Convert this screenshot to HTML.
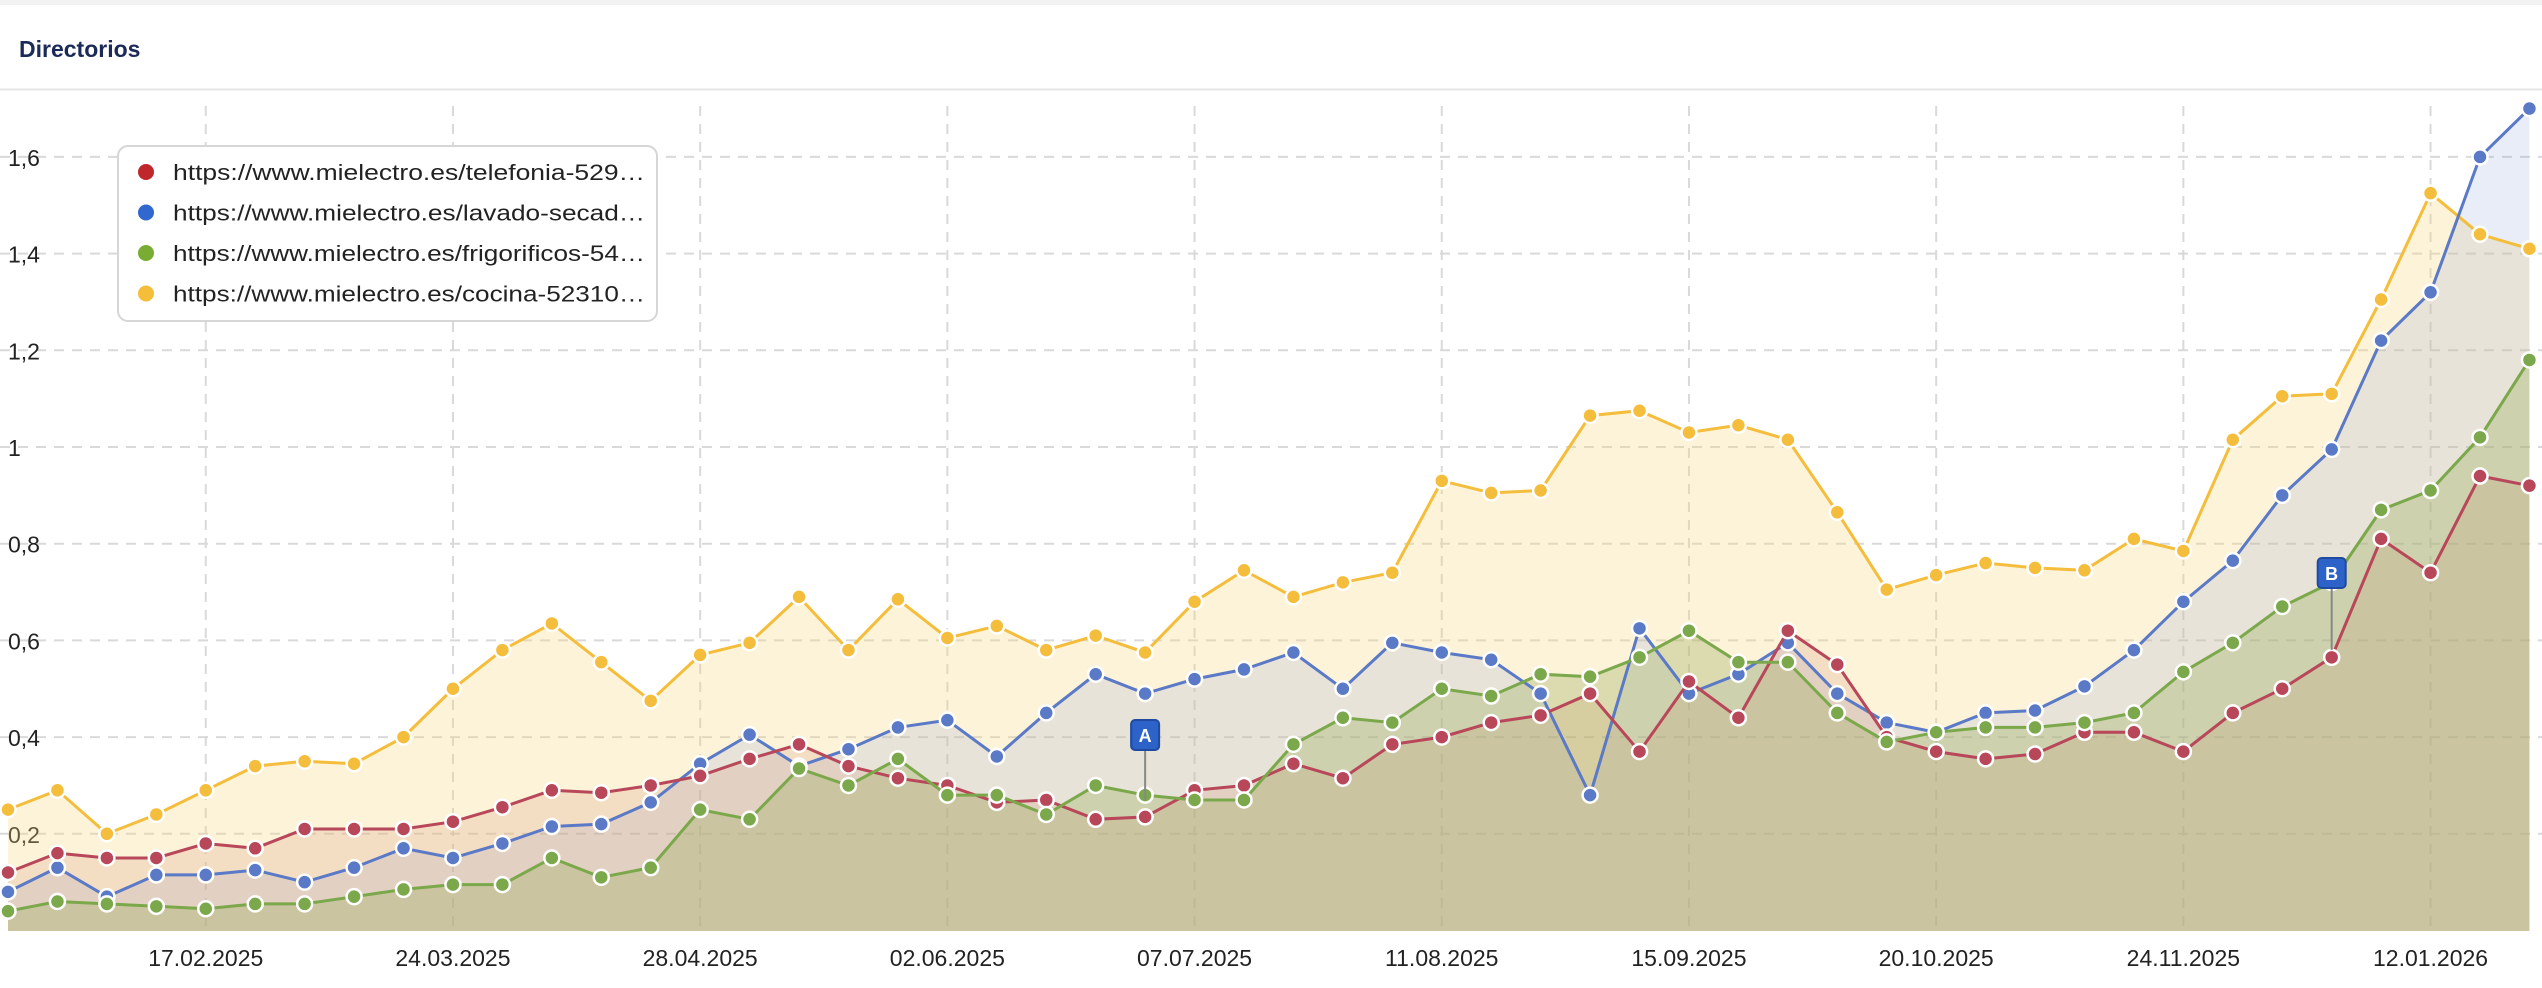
<!DOCTYPE html>
<html><head><meta charset="utf-8">
<style>
html,body{margin:0;padding:0;background:#fff;width:2542px;height:988px;overflow:hidden;font-family:"Liberation Sans",Arial,sans-serif;}
</style></head>
<body>
<svg id="c" width="2542" height="988" xmlns="http://www.w3.org/2000/svg" style="display:block">
<rect x="0" y="0" width="2542" height="5" fill="#f2f2f2"/>
<text x="19" y="57" font-family="Liberation Sans, Arial, sans-serif" font-weight="bold" font-size="23" fill="#1b2a57">Directorios</text>
<line x1="0" y1="89.5" x2="2542" y2="89.5" stroke="#e6e6e6" stroke-width="2"/>
<g id="grid"></g>
<g id="fills"></g>
<g id="lines"></g>
<g id="marks"></g>
</svg>
<script>
const NS="http://www.w3.org/2000/svg";
function el(t,a,p,txt){const e=document.createElementNS(NS,t);for(const k in a)e.setAttribute(k,a[k]);if(txt!==undefined)e.textContent=txt;p.appendChild(e);return e;}
const X=i=>8+49.44*i, Y=v=>930.5-v*483.5;
const grid=document.getElementById('grid');
[[1.6,"1,6"],[1.4,"1,4"],[1.2,"1,2"],[1,"1"],[0.8,"0,8"],[0.6,"0,6"],[0.4,"0,4"],[0.2,"0,2"]].forEach(([v,l])=>{
 el('line',{x1:0,x2:2542,y1:Y(v),y2:Y(v),stroke:'#d9d9d9','stroke-width':2,'stroke-dasharray':'10,8'},grid);
 el('text',{x:8,y:Y(v)+9,'font-size':23,fill:'#222'},grid,l);
});
const dates=["17.02.2025","24.03.2025","28.04.2025","02.06.2025","07.07.2025","11.08.2025","15.09.2025","20.10.2025","24.11.2025","12.01.2026"];
dates.forEach((d,k)=>{const x=X(4+5*k);
 el('line',{x1:x,x2:x,y1:106,y2:931,stroke:'#d9d9d9','stroke-width':2,'stroke-dasharray':'10,8'},grid);
 el('text',{x:x,y:966,'font-size':23,fill:'#222','text-anchor':'middle'},grid,d);
});
const yellow=[0.25,0.29,0.20,0.24,0.29,0.34,0.35,0.345,0.40,0.50,0.58,0.635,0.555,0.475,0.57,0.595,0.69,0.58,0.685,0.605,0.63,0.58,0.61,0.575,0.68,0.745,0.69,0.72,0.74,0.93,0.905,0.91,1.065,1.075,1.03,1.045,1.015,0.865,0.705,0.735,0.76,0.75,0.745,0.81,0.785,1.015,1.105,1.11,1.305,1.525,1.44,1.41];
const red=[0.12,0.16,0.15,0.15,0.18,0.17,0.21,0.21,0.21,0.225,0.255,0.29,0.285,0.30,0.32,0.355,0.385,0.34,0.315,0.30,0.265,0.27,0.23,0.235,0.29,0.30,0.345,0.315,0.385,0.40,0.43,0.445,0.49,0.37,0.515,0.44,0.62,0.55,0.40,0.37,0.355,0.365,0.41,0.41,0.37,0.45,0.50,0.565,0.81,0.74,0.94,0.92];
const blue=[0.08,0.13,0.07,0.115,0.115,0.125,0.10,0.13,0.17,0.15,0.18,0.215,0.22,0.265,0.345,0.405,0.34,0.375,0.42,0.435,0.36,0.45,0.53,0.49,0.52,0.54,0.575,0.50,0.595,0.575,0.56,0.49,0.28,0.625,0.49,0.53,0.595,0.49,0.43,0.41,0.45,0.455,0.505,0.58,0.68,0.765,0.90,0.995,1.22,1.32,1.60,1.70];
const green=[0.04,0.06,0.055,0.05,0.045,0.055,0.055,0.07,0.085,0.095,0.095,0.15,0.11,0.13,0.25,0.23,0.335,0.30,0.355,0.28,0.28,0.24,0.30,0.28,0.27,0.27,0.385,0.44,0.43,0.50,0.485,0.53,0.525,0.565,0.62,0.555,0.555,0.45,0.39,0.41,0.42,0.42,0.43,0.45,0.535,0.595,0.67,0.72,0.87,0.91,1.02,1.18];
const series=[[yellow,'#f4bd3c','#f7d680',0.3],[blue,'#5a79c6','#8fa3d8',0.2],[red,'#b8475a','#d48b6e',0.2],[green,'#7ba84a','#9fae60',0.35]];
const fills=document.getElementById('fills'),lines=document.getElementById('lines');
series.forEach(([d,c,f,o])=>{
 let p=d.map((v,i)=>X(i).toFixed(1)+','+Y(v).toFixed(1)).join(' ');
 el('polygon',{points:X(0)+',931 '+p+' '+X(51)+',931',fill:f,'fill-opacity':o},fills);
});
series.forEach(([d,c])=>{
 let p=d.map((v,i)=>X(i).toFixed(1)+','+Y(v).toFixed(1)).join(' ');
 el('polyline',{points:p,fill:'none',stroke:c,'stroke-width':3},lines);
 d.forEach((v,i)=>el('circle',{cx:X(i),cy:Y(v),r:7.5,fill:c,stroke:'#fff','stroke-width':2.5},lines));
});
const marks=document.getElementById('marks');
function flag(i,by,ty,l){const x=X(i);
 el('line',{x1:x,x2:x,y1:by,y2:ty,stroke:'#888','stroke-width':2},marks);
 el('rect',{x:x-14,y:by-30,width:28,height:30,rx:4,fill:'#2d62c9',stroke:'#1f4aa0','stroke-width':2},marks);
 el('text',{x:x,y:by-8,'font-size':18,'font-weight':'bold',fill:'#fff','text-anchor':'middle'},marks,l);
}
flag(23,750,800,'A');flag(47,588,650,'B');
const lg=el('g',{},marks);
el('rect',{x:118,y:146,width:539,height:175,rx:10,fill:'#fff',stroke:'#d6d6d6','stroke-width':2},lg);
[['#c0272d','https://www.mielectro.es/telefonia-529…'],['#3068d0','https://www.mielectro.es/lavado-secad…'],['#79ac33','https://www.mielectro.es/frigorificos-54…'],['#f4be3a','https://www.mielectro.es/cocina-52310…']].forEach(([c,t],k)=>{
 const y=172+40.5*k;
 el('circle',{cx:146,cy:y,r:8,fill:c},lg);
 el('text',{x:173,y:y+8,'font-size':22,fill:'#222',textLength:472,lengthAdjust:'spacingAndGlyphs'},lg,t);
});
</script>
</body></html>
